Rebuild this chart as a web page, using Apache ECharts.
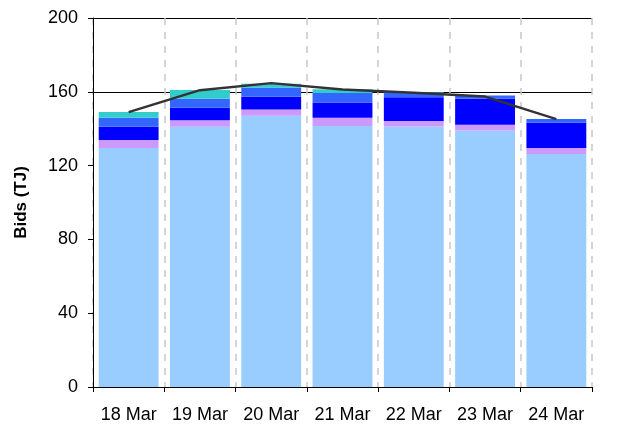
<!DOCTYPE html>
<html><head><meta charset="utf-8">
<script src="https://cdn.jsdelivr.net/npm/echarts@6/dist/echarts.min.js"></script>
<style>html,body{margin:0;padding:0;background:#fff}#c{width:634px;height:424px}</style>
</head><body><div id="c"></div>
<script>
const categories = ['18 Mar','19 Mar','20 Mar','21 Mar','22 Mar','23 Mar','24 Mar'];
const lightBlue = [129.6, 141.0, 147.0, 141.5, 141.2, 139.0, 126.3];
const lavender  = [4.3, 3.6, 3.4, 4.4, 3.0, 3.1, 3.3];
const darkBlue  = [7.1, 6.7, 6.9, 8.3, 12.9, 14.1, 13.6];
const midBlue   = [5.0, 4.9, 5.0, 5.1, 2.5, 1.8, 2.1];
const teal      = [3.1, 4.8, 2.0, 2.1, 0.3, 0, 0];
const lineVals  = [149.0, 160.9, 164.7, 161.2, 159.5, 157.4, 145.2];
const yTicks = [0, 40, 80, 120, 160, 200];

const font = 'Liberation Sans, Arial, sans-serif';
const chart = echarts.init(document.getElementById('c'));
function bar(name, data, color) {
  return { name, type: 'bar', stack: 'a', data, barWidth: '84%',
    itemStyle: { color }, emphasis: { disabled: true }, animation: false };
}
chart.setOption({
  animation: false,
  grid: { left: 93, right: 42, top: 18, bottom: 37 },
  xAxis: {
    type: 'category', data: categories, boundaryGap: true,
    axisLine: { lineStyle: { color: '#000', width: 1 } },
    axisTick: { show: true, interval: 0, length: 5, lineStyle: { color: '#000' } },
    axisLabel: { interval: 0, hideOverlap: false, color: '#000', fontSize: 18, fontFamily: font, margin: 19 },
    splitLine: { show: true, interval: 0, lineStyle: { color: '#c8c8c8', type: [7, 7], width: 1.5 } }
  },
  yAxis: {
    type: 'value', min: yTicks[0], max: yTicks[yTicks.length - 1], interval: 40,
    name: 'Bids (TJ)', nameLocation: 'middle', nameGap: 63,
    nameTextStyle: { color: '#000', fontSize: 17, fontWeight: 'bold', fontFamily: font },
    axisLine: { show: true, lineStyle: { color: '#000', width: 1 } },
    axisTick: { show: true, length: 5, lineStyle: { color: '#000' } },
    axisLabel: { color: '#000', fontSize: 18, fontFamily: font, margin: 15 },
    splitLine: { show: true, lineStyle: { color: ['rgba(0,0,0,0)','rgba(0,0,0,0)','rgba(0,0,0,0)','rgba(0,0,0,0)','#000','#000'], width: 1 } }
  },
  series: [
    bar('a', lightBlue, '#99CCFF'),
    bar('b', lavender, '#CC99FF'),
    bar('c', darkBlue, '#0000FF'),
    bar('d', midBlue, '#3366FF'),
    bar('e', teal, '#33CCCC'),
    { name: 'line', type: 'line', data: lineVals, symbol: 'none', z: 5,
      lineStyle: { color: '#333333', width: 2.5 }, emphasis: { disabled: true } }
  ]
});
</script></body></html>
